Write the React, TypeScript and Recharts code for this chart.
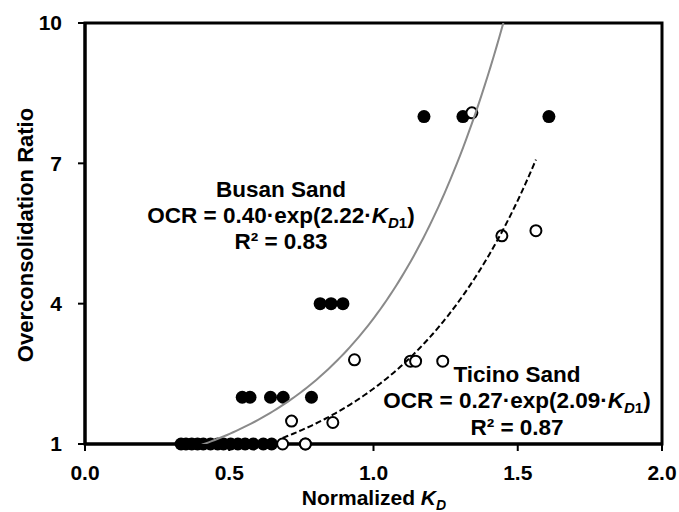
import React from 'react';
import { ScatterChart, Scatter, XAxis, YAxis, ReferenceArea } from 'recharts';

// ---- data ----
const xTicks = [0, 0.5, 1, 1.5, 2];
const yTicks = [1, 4, 7, 10];

const busanX = [0.333, 0.35, 0.37, 0.39, 0.41, 0.435, 0.46, 0.48, 0.505, 0.53, 0.555, 0.583, 0.618, 0.647, 0.764,
  0.545, 0.572, 0.643, 0.687, 0.785,
  0.815, 0.853, 0.894,
  1.175, 1.31, 1.608];
const busanY = [1, 1, 1, 1, 1, 1, 1, 1, 1, 1, 1, 1, 1, 1, 1,
  2, 2, 2, 2, 2,
  4, 4, 4,
  8, 8, 8];

const ticinoX = [0.685, 0.764, 0.716, 0.859, 0.934, 1.128, 1.146, 1.24, 1.341, 1.445, 1.563];
const ticinoY = [1, 1, 1.49, 1.46, 2.8, 2.77, 2.77, 2.77, 8.08, 5.45, 5.56];

// fitted curves OCR = a * exp(b * KD1)
const busanCoef = [0.40, 2.22];
const ticinoCoef = [0.27, 2.09];

const toPoints = (xs: number[], ys: number[]) => xs.map((x, i) => ({ x, y: ys[i] }));

const fitCurve = (xs: number[], coef: number[]) => {
  const lo = Math.min(...xs);
  const hi = Math.max(...xs);
  const n = 120;
  const pts = [] as { x: number; y: number }[];
  for (let i = 0; i <= n; i++) {
    const x = lo + ((hi - lo) * i) / n;
    pts.push({ x, y: coef[0] * Math.exp(coef[1] * x) });
  }
  return pts;
};

const busanPts = toPoints(busanX, busanY);
const ticinoPts = toPoints(ticinoX, ticinoY);
const busanFit = fitCurve(busanX, busanCoef);
const ticinoFit = fitCurve(ticinoX, ticinoCoef);

const FONT = '"Liberation Sans", Arial, Helvetica, sans-serif';

const Filled = (p: any) => <circle cx={p.cx} cy={p.cy} r={6.5} fill="#000" />;
const Open = (p: any) => <circle cx={p.cx} cy={p.cy} r={5.5} fill="#fff" stroke="#000" strokeWidth={2} />;
const NoShape = () => <g />;

const tickStyle = { fill: '#000', fontFamily: FONT, fontWeight: 700, fontSize: 21 };

export default function App() {
  return (
    <div style={{ position: 'absolute', left: 0, top: 0, width: 679, height: 512, background: '#fff' }}>
      <ScatterChart width={679} height={512} margin={{ top: 23, right: 17, bottom: 0, left: 0 }}>
        <XAxis
          dataKey="x"
          type="number"
          domain={[0, 2]}
          ticks={xTicks}
          interval={0}
          tickFormatter={(v: number) => v.toFixed(1)}
          height={68}
          tickSize={7}
          tickMargin={14}
          tick={tickStyle}
          axisLine={{ stroke: '#000', strokeWidth: 3 }}
          tickLine={{ stroke: '#000', strokeWidth: 2 }}
        />
        <YAxis
          yAxisId="main"
          dataKey="y"
          type="number"
          domain={[1, 10]}
          ticks={yTicks}
          interval={0}
          width={85}
          tickSize={7}
          tickMargin={16}
          tick={tickStyle}
          axisLine={{ stroke: '#000', strokeWidth: 3 }}
          tickLine={{ stroke: '#000', strokeWidth: 2 }}
        />
        <YAxis
          yAxisId="fit"
          orientation="right"
          dataKey="y"
          type="number"
          domain={[1, 10]}
          allowDataOverflow
          hide
          width={0}
        />
        <ReferenceArea
          yAxisId="main"
          x1={0}
          x2={2}
          y1={1}
          y2={10}
          fill="none"
          fillOpacity={0}
          stroke="#000"
          strokeWidth={3}
          ifOverflow="visible"
        />
        <Scatter yAxisId="main" data={busanPts} shape={Filled} isAnimationActive={false} />
        <Scatter yAxisId="main" data={ticinoPts} shape={Open} isAnimationActive={false} />
        <Scatter
          yAxisId="fit"
          data={busanFit}
          shape={NoShape}
          line={{ stroke: '#8a8a8a', strokeWidth: 2 }}
          isAnimationActive={false}
        />
        <Scatter
          yAxisId="fit"
          data={ticinoFit}
          shape={NoShape}
          line={{ stroke: '#000', strokeWidth: 2, strokeDasharray: '6 3' }}
          isAnimationActive={false}
        />
      </ScatterChart>
      <svg
        width={679}
        height={512}
        style={{ position: 'absolute', left: 0, top: 0, pointerEvents: 'none' }}
        fontFamily={FONT}
        fontWeight={700}
        fill="#000"
      >
        <text x={374} y={505} fontSize={21} textAnchor="middle">
          Normalized <tspan fontStyle="italic">K</tspan>
          <tspan fontStyle="italic" fontSize={14} dy={5}>D</tspan>
        </text>
        <text transform="rotate(-90)" x={-235} y={33} fontSize={22} textAnchor="middle">
          Overconsolidation Ratio
        </text>

        <g fontSize={22.5} textAnchor="middle">
          <text x={281} y={197}>Busan Sand</text>
          <text x={281} y={223}>
            OCR = 0.40·exp(2.22·<tspan fontStyle="italic">K</tspan>
            <tspan fontSize={15} dy={5}><tspan fontStyle="italic">D</tspan>1</tspan>
            <tspan dy={-5}>)</tspan>
          </text>
          <text x={281} y={249}>R² = 0.83</text>

          <text x={517} y={382}>Ticino Sand</text>
          <text x={517} y={408}>
            OCR = 0.27·exp(2.09·<tspan fontStyle="italic">K</tspan>
            <tspan fontSize={15} dy={5}><tspan fontStyle="italic">D</tspan>1</tspan>
            <tspan dy={-5}>)</tspan>
          </text>
          <text x={517} y={435}>R² = 0.87</text>
        </g>
      </svg>
    </div>
  );
}
